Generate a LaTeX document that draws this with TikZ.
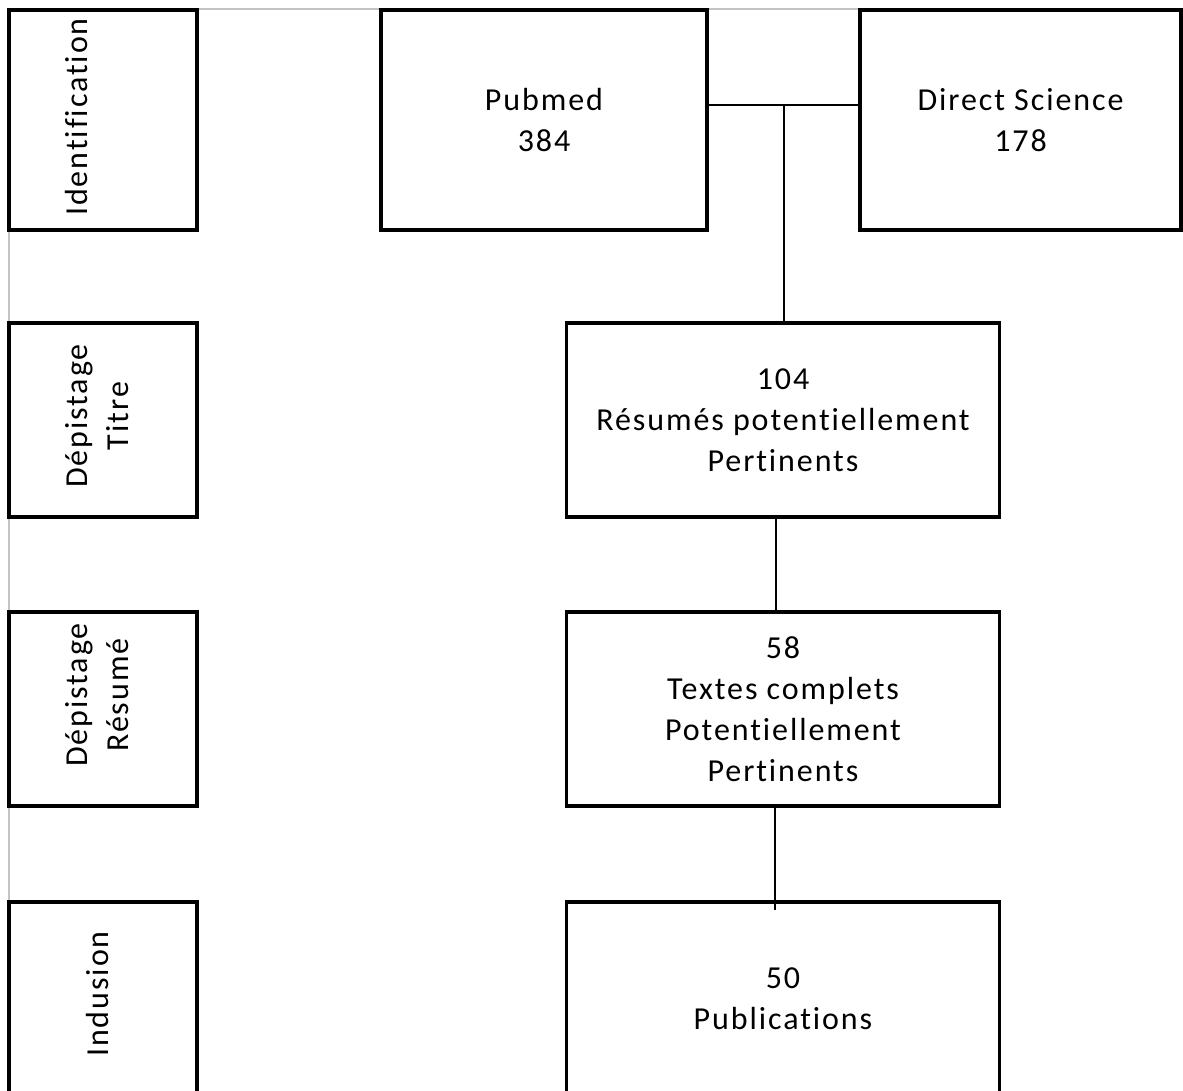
\documentclass[tikz,border=0pt]{standalone}
\usepackage{fontspec}
\setmainfont{Carlito}[LetterSpace=6,Ligatures=NoCommon]
\usepackage{tikz}
\usetikzlibrary{positioning,calc}
\definecolor{rule}{HTML}{C4C4C4}

\begin{document}
\begin{tikzpicture}[x=1pt,y=-1pt,
  phase/.style={draw=black,line width=3.4pt,minimum width=188pt,minimum height=#1,inner sep=0pt},
  stagebox/.style={draw=black,line width=3.4pt,align=center,inner sep=0pt,
    font=\fontsize{32}{41}\selectfont},
  tag/.style={rotate=90,align=center,inner sep=0pt,font=\fontsize{32}{41}\selectfont},
  link/.style={draw=black,line width=2pt}]
  \useasboundingbox (0,0) rectangle (1183,1090);
  \clip (0,0) rectangle (1183,1090);
  \draw[rule,line width=1.2pt] (9,1090) -- (9,9) -- (1183,9);
  % phase column
  \node[phase=220pt] (pid)  at (103,120) {};
  \node[phase=194pt] (ptit) at (103,420) {};
  \node[phase=194pt] (pres) at (103,709) {};
  \node[phase=194pt] (pinc) at (103,999) {};
  \node[tag] (lid)  at (77,117)  {Identification};
  \node[tag] (ltit) at (97,416)  {Dépistage\\Titre};
  \node[tag] (lres) at (97,695)  {Dépistage\\Résumé};
  \node[tag] (linc) at (98,994)  {Indusion};
  % flow column
  \node[stagebox,minimum width=326pt,minimum height=220pt] (pub) at (544,120) {Pubmed\\384};
  \node[stagebox,minimum width=321pt,minimum height=220pt] (ds)  at (1020.5,120) {Direct Science\\178};
  \node[stagebox,minimum width=433pt,minimum height=194pt] (n104) at (783,420) {104\\Résumés potentiellement\\Pertinents};
  \node[stagebox,minimum width=433pt,minimum height=194pt] (n58)  at (783,709) {58\\Textes complets\\Potentiellement\\Pertinents};
  \node[stagebox,minimum width=433pt,minimum height=194pt] (n50)  at (783,999) {50\\Publications};
  \coordinate (join) at (784,105);
  \draw[link] (pub.east |- join) -- (ds.west |- join);
  \draw[link] (join) -- (join |- n104.north);
  \draw[link] ($(n104.south)+(-7,0)$) -- ($(n58.north)+(-7,0)$);
  \draw[link] ($(n58.south)+(-8,0)$) -- ($(n50.north)+(-8,10)$);
\end{tikzpicture}
\end{document}
